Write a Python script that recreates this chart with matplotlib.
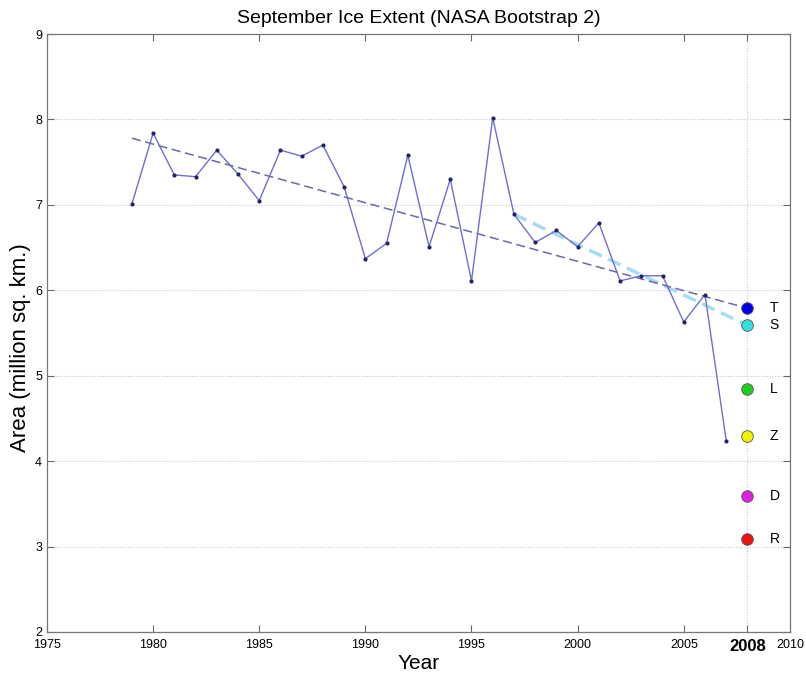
import matplotlib
matplotlib.use("Agg")
import matplotlib.pyplot as plt
import matplotlib.transforms as mtransforms

# =================================================
# DATA
# =================================================
years = list(range(1979, 2008))
extent = [7.01, 7.84, 7.35, 7.33, 7.64, 7.36, 7.05, 7.64, 7.57, 7.70,
          7.21, 6.37, 6.55, 7.58, 6.51, 7.30, 6.11, 8.02, 6.89, 6.56,
          6.70, 6.51, 6.79, 6.11, 6.17, 6.17, 5.63, 5.95, 4.24]

trend_years = [1979, 2008]
trend_vals = [7.78, 5.79]

short_trend_years = [1997, 2008]
short_trend_vals = [6.89, 5.59]

pred_year = 2008
pred_labels = ["T", "S", "L", "Z", "D", "R"]
pred_vals = [5.79, 5.59, 4.85, 4.30, 3.59, 3.09]
pred_colors = ["#0000ee", "#33e0e0", "#22cc22", "#f2f200", "#e020e0", "#ee1111"]

xticks = [1975, 1980, 1985, 1990, 1995, 2000, 2005, 2008, 2010]
yticks = [2, 3, 4, 5, 6, 7, 8, 9]

# =================================================
# PLOT
# =================================================
plt.rcParams["font.family"] = ["Liberation Sans", "DejaVu Sans"]

fig = plt.figure(figsize=(8.06, 6.76), dpi=100)
ax = fig.add_axes([0.0583, 0.0651, 0.9217, 0.8846])

ax.set_xlim(1975, 2010)
ax.set_ylim(2, 9)

for y in yticks[1:-1]:
    ax.axhline(y, color="#c8c8c8", lw=0.8, ls=(0, (1, 1.5)), zorder=0)
ax.axvline(pred_year, color="#c8c8c8", lw=0.8, ls=(0, (1, 1.5)), zorder=0)

ax.plot(short_trend_years, short_trend_vals, color="#a8dcf0", lw=2.5,
        ls=(0, (4, 2)), zorder=2)
ax.plot(trend_years, trend_vals, color="#6a6aa8", lw=1.1,
        ls=(0, (6, 3)), zorder=3)
ax.plot(years, extent, color="#6e6ed0", lw=1.0, marker="o", ms=2,
        mfc="#22226a", mec="#22226a", zorder=4)

for lab, v, c in zip(pred_labels, pred_vals, pred_colors):
    ax.scatter([pred_year], [v], s=70, color=c, edgecolor="#555555",
               linewidth=0.6, zorder=5)
    ax.text(pred_year + 1.05, v, lab, fontsize=10, va="center", ha="left")

ax.set_xticks(xticks)
ax.set_xticklabels([str(x) for x in xticks])
for t, x in zip(ax.get_xticklabels(), xticks):
    if x == 2008:
        t.set_fontweight("bold")
        t.set_fontsize(12)
    else:
        t.set_fontsize(9)
ax.set_yticks(yticks)
ax.set_yticklabels([str(y) for y in yticks], fontsize=9)

# MATLAB puts the bottom/top y labels a bit off the ends
ylabs = ax.get_yticklabels()
ylabs[0].set_transform(ylabs[0].get_transform() +
                       mtransforms.ScaledTranslation(0, 5 / 72, fig.dpi_scale_trans))
ylabs[-1].set_transform(ylabs[-1].get_transform() +
                        mtransforms.ScaledTranslation(0, 4 / 72, fig.dpi_scale_trans))

ax.tick_params(direction="in", length=5, width=0.8, color="#666666",
               top=True, right=True)
ax.tick_params(axis="x", pad=5)
for s in ax.spines.values():
    s.set_color("#777777")
    s.set_linewidth(0.9)

ax.set_title("September Ice Extent (NASA Bootstrap 2)", fontsize=14, pad=8)
ax.set_xlabel("Year", fontsize=15, labelpad=0)
ax.set_ylabel("Area (million sq. km.)", fontsize=16)
ax.yaxis.set_label_coords(-0.022, 0.475)

plt.savefig("out.png", dpi=100)
plt.close(fig)
